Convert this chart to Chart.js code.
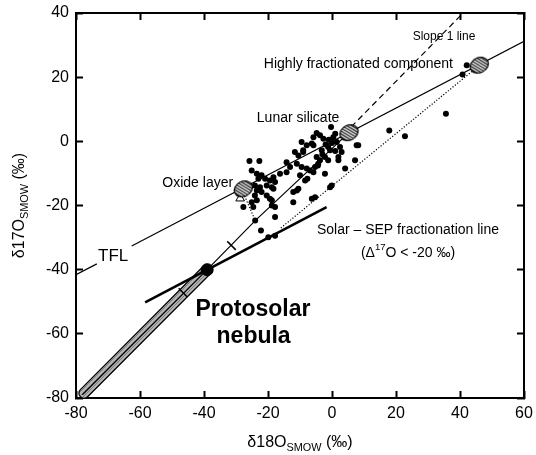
<!DOCTYPE html>
<html>
<head>
<meta charset="utf-8">
<script src="https://cdn.jsdelivr.net/npm/chart.js@4.4.0/dist/chart.umd.min.js"></script>
<style>
  html, body { margin: 0; padding: 0; background: #fff; }
</style>
</head>
<body>
<canvas id="chart" width="536" height="455"></canvas>
<script>
// valori (per mille, SMOW): [d18O, d17O]
const lunarPoints = [
  [-0.3, 4.5], [-4.8, 2.6], [-3.75, 1.9], [-5.8, 1.3], [-2.7, 0.8], [-9.5, -0.2],
  [0.4, 1.3], [1.5, -0.2], [2.5, -1.8], [-5.8, -1.25], [-6.3, -0.7], [-9.0, -3.3],
  [-11.6, -3.3], [-3.2, -2.8], [-1.2, -1.8], [-0.6, -2.8], [7.7, -1.25], [3.0, -3.3],
  [2.0, -4.9], [-4.8, -4.9], [-3.75, -5.9], [-4.3, -7.0], [-5.3, -8.0], [-2.2, -4.9],
  [-1.2, -5.9], [-14.2, -6.5], [2.0, -5.9], [7.2, -5.9], [-6.9, -9.1], [-7.9, -8.5],
  [-5.8, -9.6], [-2.2, -10.1], [-8.4, -12.2], [-13.1, -8.0], [-14.2, -9.6], [-16.25, -10.1],
  [-18.3, -11.2], [-17.8, -12.7], [-10.0, -10.6], [4.1, -8.5], [-0.6, -14.3], [-10.5, -14.8],
  [-12.1, -15.8], [-18.3, -14.8], [-12.1, -19.0], [-18.8, -18.4],
  [-25.8, -6.1], [-22.7, -6.1], [-25.1, -9.1], [-23.5, -10.1], [-22.0, -10.6], [-23.0, -11.7],
  [-20.9, -11.7], [-19.4, -12.2], [-18.8, -14.3], [-20.4, -13.75], [-24.1, -13.75], [-22.5, -14.3],
  [-23.5, -15.3], [-22.0, -15.8], [-20.4, -16.9], [-19.4, -17.9], [-24.1, -16.9], [-23.5, -18.4],
  [-25.1, -19.0], [-27.7, -20.5], [-24.6, -20.5], [-18.8, -20.0], [-17.8, -23.6], [-24.0, -24.7],
  [-22.2, -27.8], [-19.9, -29.9], [-17.8, -29.4],
  [-11.0, -15.3], [-5.3, -17.4], [-6.3, -17.9], [-0.1, -13.75], [-7.7, -11.7], [-11.0, -6.95],
  [-9.5, -8.0], [-4.4, -7.5], [1.0, 2.4], [-7.9, -1.25], [8.2, -1.25], [-17.8, -20.5],
  [-10.5, -4.4], [-9.0, -2.8], [-2.0, -1.0], [0.0, -0.5], [-1.0, 0.5], [1.0, -3.0], [-3.0, -4.0]
];
const outlierPoints = [[17.9, 3.4], [22.8, 1.6], [35.6, 8.6], [42.1, 23.75], [40.8, 20.8]];

const protosolar = [[-39, -40]];
const components = [[-27.7, -14.8], [5.3, 2.7], [46, 23.75]]; // oxide, lunare, frazionato
const oxideOutline = [[-28.7, -17.8]];
const crossMarks = [[-31.4, -32.5], [-46.6, -47.1]];

// linee
const tflLow = [[-80, -41.6], [-73.5, -38.2]];
const tflHigh = [[-62.6, -32.6], [60, 31.2]];
const slopeOneSolid = [[-78, -79], [-39, -40], [-24, -24.7], [5.3, 2.7]];
const slopeOneDashed = [[6, 4.5], [40.5, 39.5]];
const protosolarBand = [[-77.5, -78.5], [-39, -40]];
const protosolarLine = [[-58.4, -50.2], [-1.7, -20.5]];
const sepLine = [[-16, -27], [44, 22]];
const oxideLink = [[-27.3, -17], [-24, -24.7]];

const xTicks = [-80, -60, -40, -20, 0, 20, 40, 60];
const yTicks = [-80, -60, -40, -20, 0, 20, 40];

const notes = [
  { text: "Slope 1 line", x: 35.0, y: 32.5 },
  { text: "Highly fractionated component", x: 37.8, y: 24.1 },
  { text: "Lunar silicate", x: -10.6, y: 7.2 },
  { text: "Oxide layer", x: -30.9, y: -13.1 },
  { text: "TFL", x: -68.4, y: -35.9 },
  { text: "Solar \u2013 SEP fractionation line", x: 23.75, y: -27.8 },
  { text: "(\u0394^{17}O < -20 \u2030)", x: 23.75, y: -34.7 },
  { text: "Protosolar", x: -24.7, y: -52.5 },
  { text: "nebula", x: -24.5, y: -60.9 }
];

const FONT = "'Liberation Sans', Arial, Helvetica, sans-serif";
const noteStyle = {
  "Slope 1 line": { size: 12, align: "center" },
  "Highly fractionated component": { size: 14, align: "right" },
  "Lunar silicate": { size: 14, align: "center" },
  "Oxide layer": { size: 14, align: "right" },
  "TFL": { size: 17, align: "center" },
  "Solar \u2013 SEP fractionation line": { size: 14, align: "center" },
  "(\u0394^{17}O < -20 \u2030)": { size: 14, align: "center" },
  "Protosolar": { size: 23, align: "center", bold: true },
  "nebula": { size: 23, align: "center", bold: true }
};

function xy(arr) {
  return arr.map((p) => ({ x: p[0], y: p[1] }));
}

// ellisse tratteggiata come immagine per pointStyle
function makeEllipse(w, h, angle) {
  const c = document.createElement("canvas");
  c.width = w + 4;
  c.height = h + 4;
  const g = c.getContext("2d");
  g.translate(c.width / 2, c.height / 2);
  g.rotate(angle);
  g.beginPath();
  g.ellipse(0, 0, w / 2, h / 2, 0, 0, Math.PI * 2);
  g.fillStyle = "#fff";
  g.fill();
  g.save();
  g.clip();
  g.strokeStyle = "#222";
  g.lineWidth = 1.3;
  for (let i = -w; i <= w; i += 3) {
    g.beginPath();
    g.moveTo(i - h, -h);
    g.lineTo(i + h * 0.3, h);
    g.stroke();
  }
  g.restore();
  g.beginPath();
  g.ellipse(0, 0, w / 2, h / 2, 0, 0, Math.PI * 2);
  g.lineWidth = 1.2;
  g.strokeStyle = "#000";
  g.stroke();
  return c;
}

function makeHatch() {
  const c = document.createElement("canvas");
  c.width = 4;
  c.height = 4;
  const g = c.getContext("2d");
  g.fillStyle = "#b4b4b4";
  g.fillRect(0, 0, 4, 4);
  g.strokeStyle = "#6e6e6e";
  g.lineWidth = 0.8;
  g.beginPath();
  g.moveTo(0, 4);
  g.lineTo(4, 0);
  g.stroke();
  return g.createPattern(c, "repeat");
}

const ellipseImg = makeEllipse(19, 15, -0.45);

// testo con apici/pedici: ^{..} e _{..}
function drawRich(ctx, text, x, y, size, align, bold) {
  const parts = text.split(/(\^\{[^}]*\}|_\{[^}]*\})/).filter((s) => s.length);
  const items = parts.map((s) => {
    if (s.startsWith("^{")) return { t: s.slice(2, -1), s: size * 0.68, dy: -size * 0.35 };
    if (s.startsWith("_{")) return { t: s.slice(2, -1), s: size * 0.68, dy: size * 0.3 };
    return { t: s, s: size, dy: 0 };
  });
  let total = 0;
  items.forEach((it) => {
    ctx.font = (bold ? "bold " : "") + it.s + "px " + FONT;
    it.w = ctx.measureText(it.t).width;
    total += it.w;
  });
  let cx = align === "center" ? x - total / 2 : align === "right" ? x - total : x;
  ctx.textAlign = "left";
  ctx.textBaseline = "middle";
  items.forEach((it) => {
    ctx.font = (bold ? "bold " : "") + it.s + "px " + FONT;
    ctx.fillText(it.t, cx, y + it.dy);
    cx += it.w;
  });
}

const notesPlugin = {
  id: "notes",
  afterDraw(chart) {
    const ctx = chart.ctx;
    const xs = chart.scales.x;
    const ys = chart.scales.y;
    const area = chart.chartArea;
    ctx.save();
    ctx.fillStyle = "#000";
    notes.forEach((n) => {
      const st = noteStyle[n.text];
      drawRich(ctx, n.text, xs.getPixelForValue(n.x), ys.getPixelForValue(n.y), st.size, st.align, st.bold);
    });
    // titoli degli assi
    drawRich(ctx, "\u03b418O_{SMOW} (\u2030)", (area.left + area.right) / 2, area.bottom + 45, 16, "center");
    ctx.translate(20, (area.top + area.bottom) / 2);
    ctx.rotate(-Math.PI / 2);
    drawRich(ctx, "\u03b417O_{SMOW} (\u2030)", 0, 0, 16, "center");
    ctx.restore();
  }
};

function lineSet(data, opts) {
  return Object.assign(
    {
      data: xy(data),
      showLine: true,
      pointRadius: 0,
      borderColor: "#000",
      borderWidth: 1.2,
      fill: false,
      order: 5
    },
    opts
  );
}

const tickGrid = { drawOnChartArea: false, tickLength: -7, tickWidth: 2, tickColor: "#000" };
const axisBorder = { color: "#000", width: 2 };

function fitX(h) {
  return (s) => { s.height = h; s.paddingLeft = 0; s.paddingRight = 0; };
}
function fitY(w) {
  return (s) => { s.width = w; s.paddingTop = 0; s.paddingBottom = 0; };
}

new Chart(document.getElementById("chart"), {
  type: "scatter",
  data: {
    datasets: [
      {
        data: xy(components),
        pointStyle: ellipseImg,
        pointRadius: 9,
        order: 0
      },
      {
        data: xy(oxideOutline),
        pointStyle: "triangle",
        pointRadius: 5,
        backgroundColor: "#fff",
        borderColor: "#000",
        borderWidth: 1,
        order: 0.5
      },
      {
        data: xy(protosolar),
        pointRadius: 6,
        backgroundColor: "#000",
        borderColor: "#000",
        order: 1
      },
      {
        data: xy(crossMarks),
        pointStyle: "line",
        pointRotation: 45,
        pointRadius: 6,
        borderColor: "#000",
        borderWidth: 1.5,
        order: 2
      },
      {
        data: xy(lunarPoints.concat(outlierPoints)),
        pointRadius: 3,
        backgroundColor: "#000",
        borderColor: "#000",
        borderWidth: 0,
        order: 3
      },
      lineSet(tflLow),
      lineSet(tflHigh),
      lineSet(slopeOneSolid),
      lineSet(slopeOneDashed, { borderDash: [6, 4] }),
      lineSet(protosolarLine, { borderWidth: 2.6 }),
      lineSet(sepLine, { borderDash: [1.2, 1.8], borderWidth: 1.2 }),
      lineSet(oxideLink, { borderDash: [1.2, 1.8], borderWidth: 1.2 }),
      lineSet(protosolarBand, { borderColor: makeHatch(), borderWidth: 9, borderCapStyle: "round", order: 7 }),
      lineSet(protosolarBand, { borderWidth: 11.5, borderCapStyle: "round", order: 8 })
    ]
  },
  options: {
    responsive: false,
    animation: false,
    events: [],
    layout: { padding: { top: 13, right: 12, left: 0, bottom: 0 } },
    plugins: { legend: { display: false }, tooltip: { enabled: false } },
    scales: {
      x: {
        type: "linear",
        position: "bottom",
        min: -80,
        max: 60,
        afterBuildTicks: (s) => { s.ticks = xTicks.map((v) => ({ value: v })); },
        ticks: { color: "#000", font: { family: FONT, size: 16 }, padding: 13 },
        grid: tickGrid,
        border: axisBorder,
        afterFit: fitX(57)
      },
      x2: {
        type: "linear",
        position: "top",
        min: -80,
        max: 60,
        afterBuildTicks: (s) => { s.ticks = xTicks.map((v) => ({ value: v })); },
        ticks: { display: false },
        grid: tickGrid,
        border: axisBorder,
        afterFit: fitX(0)
      },
      y: {
        type: "linear",
        position: "left",
        min: -80,
        max: 40,
        afterBuildTicks: (s) => { s.ticks = yTicks.map((v) => ({ value: v })); },
        ticks: { color: "#000", font: { family: FONT, size: 16 }, padding: 14 },
        grid: tickGrid,
        border: axisBorder,
        afterFit: fitY(76)
      },
      y2: {
        type: "linear",
        position: "right",
        min: -80,
        max: 40,
        afterBuildTicks: (s) => { s.ticks = yTicks.map((v) => ({ value: v })); },
        ticks: { display: false },
        grid: tickGrid,
        border: axisBorder,
        afterFit: fitY(0)
      }
    }
  },
  plugins: [notesPlugin]
});
</script>
</body>
</html>
